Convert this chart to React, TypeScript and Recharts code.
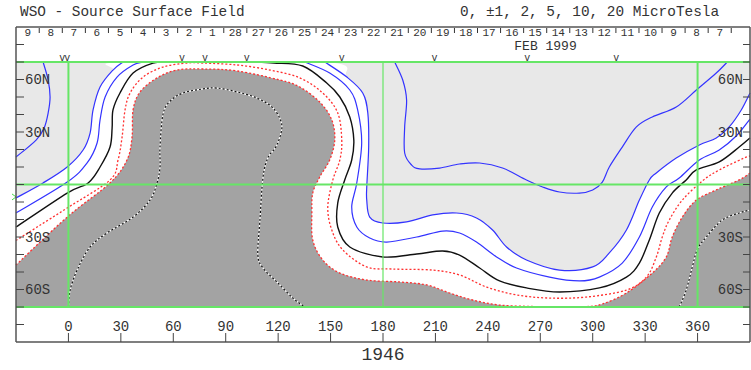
import React from "react";
import { ComposedChart, Scatter, XAxis, YAxis, ReferenceLine, ReferenceArea } from "recharts";

type P = [number, number]; // [carrington longitude, latitude]

// contours
const neutralWest: P[] = [[-30, -24.3], [-0.7, -4.9], [11.3, 0.9], [18.1, 10], [23.8, 21.4], [25, 32.3], [25.5, 42.6], [29.5, 52.3], [37, 63.7], [48.4, 69.4], [57, 70]];
const neutralEast: P[] = [[105.5, 70], [117.5, 69.4], [134.1, 67.7], [147.8, 58], [155.3, 50], [161, 38.6], [163.3, 25.4], [162.1, 14], [158.1, 2.6], [154.1, -10.6], [154.1, -24.3], [161, -35.7], [179.8, -41.4], [199.3, -39.7], [214.1, -38], [223.8, -40.3], [235.3, -47.7], [246.7, -55.1], [262.1, -59.1], [281, -61.4], [303.8, -59.1], [319.3, -52.9], [326.7, -44.9], [332.4, -31.7], [338.1, -16.3], [345.5, -4.9], [353.5, 2.6], [359.3, 8.3], [372.4, 12.9], [383.8, 21.4], [390, 26.6]];

const plusInnerWest: P[] = [[-30, -16.3], [-0.7, 1.4], [10.7, 12.3], [16.4, 23.7], [18.1, 36.9], [21, 50], [27.8, 61.4], [37, 68.3], [42.7, 70]];
const plusInnerEast: P[] = [[135.3, 70], [149.5, 63.7], [161, 54], [165.5, 42.6], [167.8, 23.7], [165, 0.9], [162.1, -12.9], [165, -24.3], [172.4, -30.6], [182.1, -32.9], [199.3, -30], [214.1, -26.6], [223.8, -27.7], [233.5, -32.9], [245, -41.4], [256.4, -47.7], [275.3, -52.9], [292.4, -55.1], [303.8, -52.9], [316.9, -44.9], [326.7, -30], [334.1, -12.9], [342.1, -1.4], [349.5, 3.7], [361, 14], [372.4, 19.7], [382.1, 27.7], [390, 37.4]];

const plusOuterWest: P[] = [[-30, -7.7], [-14.5, 0.9], [-0.7, 10], [8.4, 19.7], [12.4, 29.4], [14.1, 42.6], [18.1, 55.7], [25.5, 65.4], [31.3, 70]];
const plusOuterEast: P[] = [[146.7, 70], [159.3, 61.4], [168.4, 52.3], [171.3, 40.9], [171.8, 21.4], [170.7, -1.4], [170.7, -8.9], [172.4, -18.6], [179.8, -22], [193.5, -21.4], [208.4, -17.4], [222.1, -16.3], [233.5, -19.1], [242.7, -26], [250.7, -35.7], [262.1, -43.1], [281, -48.9], [300, -47.1], [309.5, -39.1], [319.3, -26], [326.7, -8.9], [332.4, 2.6], [336.4, 6.6], [347.8, 15.1], [361, 22.6], [370.7, 26.6], [378.1, 32.9], [385, 42.6], [390, 52.3]];

const plusFarWest: P[] = [[-14.5, 70], [-11.6, 59.7], [-10.5, 50], [-11.6, 40.9], [-13.9, 32.3], [-18.5, 25.4], [-30, 15.7]];
const plusValley: P[] = [[186.7, 70], [191.3, 59.7], [193.5, 48.3], [192.4, 32.9], [192.4, 18], [196.4, 11.1], [201, 8.9], [212.4, 9.4], [223.8, 11.7], [235.3, 12.3], [248.4, 9.4], [262.1, 2.6], [271.3, -1.4], [281, -4.3], [292.4, -4.9], [300, -3.1], [305.5, 1.4], [309.5, 10], [316.9, 21.4], [325, 32.9], [334.1, 38.6], [347.8, 44.3], [359.3, 54], [370.7, 63.7], [377, 70]];

const minusInner: P[] = [[-30, -32], [-17.9, -24.3], [-0.7, -13.4], [23.8, 2.6], [28.4, 14], [30.7, 27.1], [32.4, 42.6], [35.3, 52.3], [42.7, 61.4], [54.1, 67.1], [67.8, 69.4], [77, 69.4], [96.4, 68.3], [115.3, 65.4], [132.4, 60.9], [145.5, 52.3], [154.1, 40.9], [156.4, 25.4], [155.3, 14], [151.3, 2.6], [148.4, -12.9], [150.7, -26], [157, -37.4], [170.7, -47.1], [185.5, -48.3], [208.4, -48.9], [223.8, -51.7], [239.3, -58.6], [256.4, -63.1], [275.3, -64.9], [296.4, -64.3], [319.3, -60.3], [330.7, -52.9], [336.4, -41.4], [339.8, -30], [343.8, -20.3], [351.3, -8.9], [362.7, 2], [372.4, 8.3], [385.5, 14.6], [390, 16.3]];
const minusEdge: P[] = [[-30, -46], [-0.7, -18.6], [23.8, 0.9], [33.5, 14], [36.4, 27.1], [37, 42.6], [41, 52.9], [50.7, 60.9], [62.1, 65.4], [77, 66], [96.4, 64.9], [121, 59.7], [132.4, 55.7], [143.8, 47.1], [150.7, 36.9], [152.4, 25.4], [149.5, 14], [143.8, 4.3], [139.8, -4.9], [139.3, -16.3], [139.8, -31.7], [145.5, -43.1], [155.3, -50.6], [170.7, -54.6], [189.5, -55.7], [205, -57.4], [218.1, -62], [231.3, -66], [246.7, -68.9], [265.5, -69.7], [281, -70], [296.4, -69.8], [305.5, -68.3], [319.3, -62], [334.1, -50.6], [342.1, -41.4], [345.5, -30], [351.3, -18.6], [359.3, -8.9], [370.7, -3.1], [383.8, 2.6], [390, 6.6]];

const minusDeepWest: P[] = [[0, -70], [1, -60.3], [5, -48.9], [12.4, -35.7], [22.1, -27.7], [37, -18.6], [46.7, -8.9], [50.7, 0.9], [52.4, 10], [52.4, 21.4], [54.1, 40], [58.1, 47.5], [65.5, 52.3], [77, 54.6], [85, 55.1], [96.4, 52.9], [107.8, 49.4], [117, 43.7], [122.1, 34], [119.3, 22.6], [114.1, 15.1], [111.3, 3.7], [109.5, -21.4], [108.4, -40.3], [111.3, -47.7], [119.3, -55.7], [128.4, -64.9], [135.3, -70]];
const minusDeepEast: P[] = [[349.5, -70], [353.5, -60.3], [357, -47.1], [359.8, -37.4], [365, -30], [374.1, -20.3], [383.8, -16.3], [390, -14.6]];

const lonTicks = [0, 30, 60, 90, 120, 150, 180, 210, 240, 270, 300, 330, 360];
const latTicks = [-80, -70, -60, -50, -40, -30, -20, -10, 0, 10, 20, 30, 40, 50, 60, 70, 80];
const latNamed: Record<number, string> = { 60: "60N", 30: "30N", [-30]: "30S", [-60]: "60S" };

const dayLabels = ["9", "8", "7", "6", "5", "4", "3", "2", "1", "28", "27", "26", "25", "24", "23", "22", "21", "20", "19", "18", "17", "16", "15", "14", "13", "12", "11", "10", "9", "8", "7"];
const firstDayEdge = -16.7;
const degPerDay = 360 / 27.2753;
const markerLons = [-3.6, -0.7, 65, 78.1, 102.1, 156.4, 209.5, 262.6, 313.5];
const monthLabel = "FEB 1999";
const monthLon = 273;
const b0Lat = -7.1;
const rotation = "1946";

const FONT = '"Liberation Mono", "DejaVu Sans Mono", monospace';
const GREEN = "#66e666";
const BLUE = "#3333ff";
const RED = "#ff3030";
const LON_MIN = -30;
const LON_MAX = 390;
const LAT_EDGE = 70;

type XY = { x: number; y: number };
function smoothD(pts: XY[]): string {
  if (!pts.length) return "";
  let d = `M${pts[0].x},${pts[0].y}`;
  for (let i = 0; i < pts.length - 1; i++) {
    const p0 = pts[i - 1] ?? pts[i];
    const p1 = pts[i];
    const p2 = pts[i + 1];
    const p3 = pts[i + 2] ?? p2;
    const c1x = p1.x + (p2.x - p0.x) / 6;
    const c1y = p1.y + (p2.y - p0.y) / 6;
    const c2x = p2.x - (p3.x - p1.x) / 6;
    const c2y = p2.y - (p3.y - p1.y) / 6;
    d += ` C${c1x},${c1y} ${c2x},${c2y} ${p2.x},${p2.y}`;
  }
  return d;
}

const toRows = (pts: P[]) => pts.map(([lon, lat]) => ({ lon, lat }));
const noDot = () => <g />;

function contour(key: string, pts: P[], draw: (d: string) => React.ReactNode, z: number) {
  return (
    <Scatter
      key={key}
      data={toRows(pts)}
      xAxisId="lon"
      yAxisId="lat"
      shape={noDot}
      isAnimationActive={false}
      zIndex={z}
      line={(p: any) => <g>{draw(smoothD(p.points))}</g>}
    />
  );
}

// region bounded by a contour and the bottom of the map
function region(key: string, edge: P[], fill: string, z: number) {
  const rows = toRows([...edge, [LON_MAX, -LAT_EDGE], [LON_MIN, -LAT_EDGE]]);
  return (
    <Scatter
      key={key}
      data={rows}
      xAxisId="lon"
      yAxisId="lat"
      shape={noDot}
      isAnimationActive={false}
      zIndex={z}
      line={(p: any) => {
        const e = p.points.slice(0, edge.length);
        const c = p.points.slice(edge.length);
        const d = smoothD(e) + c.map((q: XY) => ` L${q.x},${q.y}`).join("") + " Z";
        return <path d={d} fill={fill} stroke="none" />;
      }}
    />
  );
}

const blue = (d: string) => <path d={d} fill="none" stroke={BLUE} strokeWidth={1.2} />;
const black = (d: string) => <path d={d} fill="none" stroke="#111" strokeWidth={1.4} />;
const red = (d: string) => <path d={d} fill="none" stroke={RED} strokeWidth={1.3} strokeDasharray="2 2" />;
const deep = (d: string) => (
  <>
    <path d={d} fill="none" stroke="#fff" strokeWidth={1.2} />
    <path d={d} fill="none" stroke="#111" strokeWidth={1.2} strokeDasharray="2 2" />
  </>
);

const dayRows = dayLabels.map((text, i) => ({ lon: firstDayEdge - degPerDay / 2 + i * degPerDay, lat: 86.3, text }));
const sepRows = dayLabels.map((_, i) => ({ lon: firstDayEdge + i * degPerDay, lat: 90 }));
const markerRows = markerLons.map((lon) => ({ lon, lat: 71.8, text: "v" }));

const textShape = (size: number) => (p: any) => (
  <text x={p.cx} y={p.cy} textAnchor="middle" dominantBaseline="central" fontFamily={FONT} fontSize={size} fill="#333">
    {p.payload.text}
  </text>
);

const tickStyle = { fill: "#333", fontSize: 14, fontFamily: FONT };
const latLabel = (v: number) => latNamed[v] ?? "";

export default function App() {
  return (
    <div style={{ position: "absolute", left: 0, top: 0, width: 751, height: 370, background: "#fff" }}>
      <ComposedChart width={751} height={370} margin={{ top: 27, right: 1, bottom: 28, left: 16 }}>
        <ReferenceArea xAxisId="lon" yAxisId="lat" x1={LON_MIN} x2={LON_MAX} y1={-LAT_EDGE} y2={LAT_EDGE} fill="#e8e8e8" fillOpacity={1} stroke="none" zIndex={1001} />
        {region("white", [...plusOuterWest, ...plusOuterEast], "#ffffff", 1002)}
        {region("gray", minusEdge, "#a3a3a3", 1003)}
        {contour("deepW", minusDeepWest, deep, 1004)}
        {contour("deepE", minusDeepEast, deep, 1004)}
        {contour("edge", minusEdge, red, 1004)}
        {contour("minus1", minusInner, red, 1004)}
        {contour("n0w", neutralWest, black, 1004)}
        {contour("n0e", neutralEast, black, 1004)}
        {contour("p1w", plusInnerWest, blue, 1004)}
        {contour("p1e", plusInnerEast, blue, 1004)}
        {contour("p2w", plusOuterWest, blue, 1004)}
        {contour("p2e", plusOuterEast, blue, 1004)}
        {contour("p5w", plusFarWest, blue, 1004)}
        {contour("p5v", plusValley, blue, 1004)}
        {/* ties the right-hand latitude scale to the data so that it is drawn */}
        <Scatter data={toRows(minusDeepEast)} xAxisId="lon" yAxisId="latR" shape={noDot} isAnimationActive={false} />

        <ReferenceLine xAxisId="lon" yAxisId="lat" y={LAT_EDGE} stroke={GREEN} strokeWidth={2} zIndex={1005} />
        <ReferenceLine xAxisId="lon" yAxisId="lat" y={0} stroke={GREEN} strokeWidth={2} zIndex={1005} />
        <ReferenceLine xAxisId="lon" yAxisId="lat" y={-LAT_EDGE} stroke={GREEN} strokeWidth={2} zIndex={1005} />
        <ReferenceLine xAxisId="lon" yAxisId="lat" segment={[{ x: 0, y: -LAT_EDGE }, { x: 0, y: LAT_EDGE }]} stroke={GREEN} strokeWidth={2} zIndex={1005} />
        <ReferenceLine xAxisId="lon" yAxisId="lat" segment={[{ x: 180, y: -LAT_EDGE }, { x: 180, y: LAT_EDGE }]} stroke={GREEN} strokeWidth={1.2} zIndex={1005} />
        <ReferenceLine xAxisId="lon" yAxisId="lat" segment={[{ x: 360, y: -LAT_EDGE }, { x: 360, y: LAT_EDGE }]} stroke={GREEN} strokeWidth={2} zIndex={1005} />
        <ReferenceLine xAxisId="lon" yAxisId="lat" y={90} stroke="#555" strokeWidth={1.5} zIndex={1005} />

        <Scatter data={dayRows} xAxisId="lon" yAxisId="lat" shape={textShape(11)} isAnimationActive={false} zIndex={1006} />
        <Scatter
          data={sepRows}
          xAxisId="lon"
          yAxisId="lat"
          isAnimationActive={false}
          zIndex={1006}
          shape={(p: any) => <line x1={p.cx} x2={p.cx} y1={p.cy + 1} y2={p.cy + 6} stroke="#333" strokeWidth={1} />}
        />
        <Scatter data={markerRows} xAxisId="lon" yAxisId="lat" shape={textShape(10)} isAnimationActive={false} zIndex={1006} />
        <Scatter data={[{ lon: monthLon, lat: 79, text: monthLabel }]} xAxisId="lon" yAxisId="lat" shape={textShape(13)} isAnimationActive={false} zIndex={1006} />
        <Scatter
          data={[{ lon: LON_MIN, lat: b0Lat }]}
          xAxisId="lon"
          yAxisId="lat"
          isAnimationActive={false}
          zIndex={1006}
          shape={(p: any) => <path d={`M${p.cx - 4},${p.cy - 3} L${p.cx},${p.cy} L${p.cx - 4},${p.cy + 3}`} fill="none" stroke="#44dd44" strokeWidth={1} />}
        />
        <Scatter
          data={[{ lon: 180, lat: -90, text: rotation }]}
          xAxisId="lon"
          yAxisId="lat"
          isAnimationActive={false}
          zIndex={1006}
          shape={(p: any) => (
            <text x={p.cx} y={p.cy + 13} textAnchor="middle" dominantBaseline="central" fontFamily={FONT} fontSize={18} fill="#333">
              {p.payload.text}
            </text>
          )}
        />

        <XAxis
          xAxisId="lon"
          type="number"
          dataKey="lon"
          domain={[LON_MIN, LON_MAX]}
          ticks={lonTicks}
          interval={0}
          mirror
          tickSize={9}
          tickMargin={2}
          axisLine={{ stroke: "#555", strokeWidth: 1.5 }}
          tickLine={{ stroke: "#444" }}
          tick={tickStyle}
          zIndex={1007}
        />
        <YAxis
          yAxisId="lat"
          type="number"
          dataKey="lat"
          domain={[-90, 90]}
          ticks={latTicks}
          interval={0}
          mirror
          tickSize={8}
          tickMargin={1}
          tickFormatter={latLabel}
          axisLine={{ stroke: "#555", strokeWidth: 1.5 }}
          tickLine={{ stroke: "#444" }}
          tick={tickStyle}
          zIndex={1007}
        />
        <YAxis
          yAxisId="latR"
          orientation="right"
          type="number"
          dataKey="lat"
          domain={[-90, 90]}
          ticks={latTicks}
          interval={0}
          mirror
          tickSize={7}
          tickMargin={0}
          tickFormatter={latLabel}
          axisLine={{ stroke: "#555", strokeWidth: 1.5 }}
          tickLine={{ stroke: "#444" }}
          tick={tickStyle}
          zIndex={1007}
        />
      </ComposedChart>
      <div style={{ position: "absolute", left: 20, top: 4, fontFamily: FONT, fontSize: 14.4, lineHeight: "16px", color: "#333", whiteSpace: "pre" }}>
        WSO - Source Surface Field
      </div>
      <div style={{ position: "absolute", left: 460, top: 4, fontFamily: FONT, fontSize: 14.4, lineHeight: "16px", color: "#333", whiteSpace: "pre" }}>
        0, ±1, 2, 5, 10, 20 MicroTesla
      </div>
    </div>
  );
}
